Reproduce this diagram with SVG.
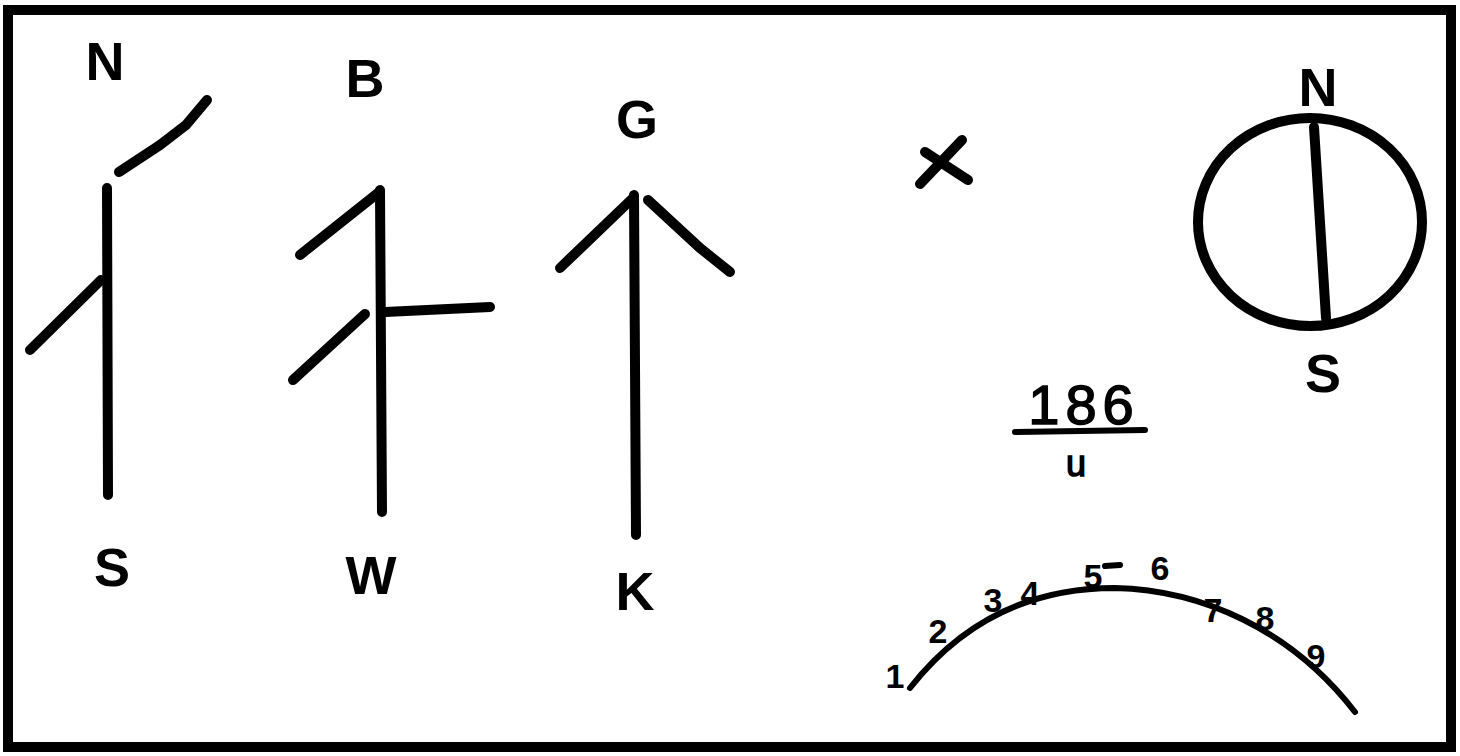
<svg xmlns="http://www.w3.org/2000/svg" width="1460" height="756" viewBox="0 0 1460 756">
<style>
.s{fill:none;stroke:#000;stroke-width:10;stroke-linecap:round;stroke-linejoin:round}
.t{stroke-width:6}
.l{font-family:"Liberation Sans",Arial,sans-serif;font-weight:bold;font-size:54px;fill:#000;text-anchor:middle}
.n{font-family:"Liberation Sans",Arial,sans-serif;font-weight:bold;font-size:34px;fill:#000;text-anchor:middle}
</style>
<rect width="1460" height="756" fill="#fff"/>
<rect x="8" y="10" width="1443" height="737" fill="none" stroke="#000" stroke-width="10"/>
<g id="figure1">
<text class="l" x="105" y="80">N</text>
<path class="s" d="M107,188 L108,495"/>
<path class="s" d="M119,172 L160,145 L186,125 L207,100"/>
<path class="s" d="M30,350 L101,280"/>
<text class="l" x="112" y="586">S</text>
</g>
<g id="figure2">
<text class="l" x="365" y="97">B</text>
<path class="s" d="M380,190 L382,512"/>
<path class="s" d="M300,255 L378,193"/>
<path class="s" d="M293,380 L365,314"/>
<path class="s" d="M385,312 L490,307"/>
<text class="l" x="371" y="594">W</text>
</g>
<g id="figure3">
<text class="l" x="637" y="138">G</text>
<path class="s" d="M634,195 L636,535"/>
<path class="s" d="M560,268 L633,198"/>
<path class="s" d="M648,200 L700,248 L730,272"/>
<text class="l" x="635" y="610">K</text>
</g>
<g id="cross">
<path class="s" d="M920,184 L962,140"/>
<path class="s" d="M925,152 L968,180"/>
</g>
<g id="circle">
<text class="l" x="1318" y="106">N</text>
<ellipse class="s" cx="1310" cy="222" rx="112" ry="104"/>
<path class="s" d="M1314,127 L1326,318"/>
<text class="l" x="1323" y="392">S</text>
</g>
<g id="fraction">
<text class="l" x="1084" y="424" style="font-weight:normal;font-size:56px;letter-spacing:6px;stroke:#000;stroke-width:1.5">186</text>
<path class="s t" d="M1015,432 L1145,430"/>
<text class="n" x="1076" y="476" style="font-weight:normal;font-size:36px;stroke:#000;stroke-width:1.5">u</text>
</g>
<g id="scale">
<path class="s t" d="M910,688 C975,605 1055,588 1115,588 C1200,590 1290,628 1355,712"/>
<text class="n" x="895" y="688">1</text>
<text class="n" x="938" y="643">2</text>
<text class="n" x="993" y="612">3</text>
<text class="n" x="1030" y="605">4</text>
<text class="n" x="1093" y="588">5</text>
<path class="s t" d="M1105,566 L1120,565"/>
<text class="n" x="1160" y="580">6</text>
<text class="n" x="1213" y="622">7</text>
<text class="n" x="1265" y="630">8</text>
<text class="n" x="1316" y="668">9</text>
</g>
</svg>
